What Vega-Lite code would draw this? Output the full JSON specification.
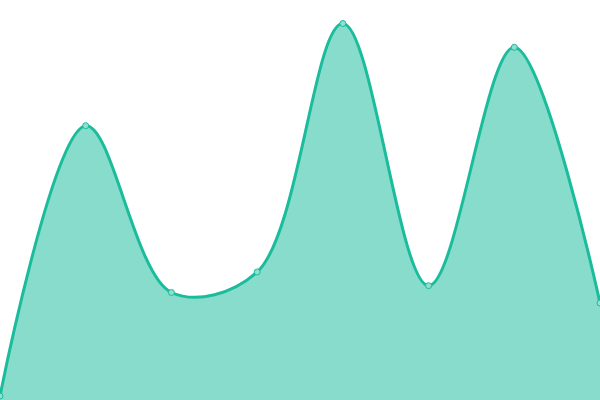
{
  "$schema": "https://vega.github.io/schema/vega-lite/v6.json",
  "autosize": {"type": "none"},
  "width": 600,
  "height": 400,
  "padding": 0,
  "background": "white",
  "config": {"view": {"stroke": null}},
  "data": {"values": [
    {"i": 0, "v": 4},
    {"i": 1, "v": 274.3},
    {"i": 2, "v": 107.5},
    {"i": 3, "v": 128},
    {"i": 4, "v": 376.5},
    {"i": 5, "v": 114.3},
    {"i": 6, "v": 352.7},
    {"i": 7, "v": 97}
  ]},
  "encoding": {
    "x": {"field": "i", "type": "quantitative", "scale": {"domain": [0, 7], "nice": false, "zero": false}, "axis": null},
    "y": {"field": "v", "type": "quantitative", "scale": {"domain": [0, 400], "nice": false}, "axis": null}
  },
  "layer": [
    {"mark": {"type": "area", "interpolate": "catmull-rom", "tension": 0.5, "color": "#1abc9c", "opacity": 0.52}},
    {"mark": {"type": "line", "interpolate": "catmull-rom", "tension": 0.5, "color": "#1abc9c", "strokeWidth": 3}},
    {"mark": {"type": "point", "filled": true, "fill": "#8fe0d0", "stroke": "#1abc9c", "strokeWidth": 1, "size": 36, "opacity": 1}}
  ]
}
